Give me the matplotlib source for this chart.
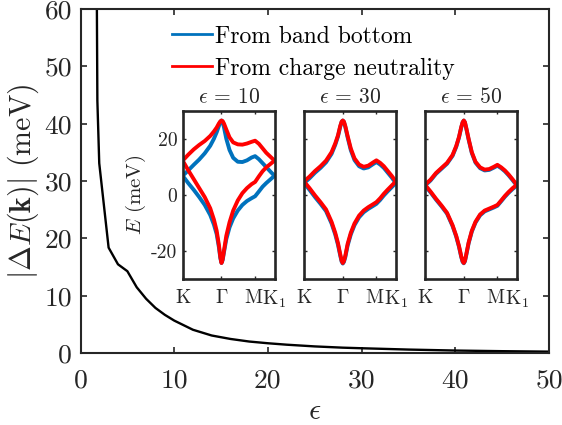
import numpy as np
import matplotlib
matplotlib.use('Agg')
import matplotlib.pyplot as plt
import matplotlib.transforms as mtransforms
from matplotlib.lines import Line2D

plt.rcParams['font.family'] = 'serif'
plt.rcParams['font.serif'] = ['cmr10']
plt.rcParams['mathtext.fontset'] = 'cm'
plt.rcParams['axes.unicode_minus'] = False
plt.rcParams['axes.formatter.use_mathtext'] = True

# ---------------- main curve ----------------
eps = [1.7, 1.8, 2, 3, 4, 5, 6, 7, 8, 9, 10, 12, 14, 16, 18, 20, 22, 25, 28, 30, 35, 40, 45, 50]
dE = [75, 44, 33.1, 18.4, 15.5, 14.3, 11.5, 9.5, 7.9, 6.7, 5.7, 4.1, 3.1, 2.5, 2.05, 1.75, 1.5,
      1.2, 0.98, 0.88, 0.65, 0.48, 0.37, 0.29]
main_xticks = [0, 10, 20, 30, 40, 50]
main_yticks = [0, 10, 20, 30, 40, 50, 60]

# ---------------- insets ----------------
inset_eps = [10, 30, 50]
kpath = [0, 0.06, 0.12, 0.18, 0.24, 0.30, 0.34, 0.37, 0.395, 0.41, 0.4226, 0.435, 0.45,
         0.475, 0.51, 0.55, 0.60, 0.65, 0.70, 0.75, 0.7887, 0.83, 0.87, 0.91, 0.955, 1.0]
kpoint_pos = [0, 0.4226, 0.7887, 1.0]
kpoint_labels = ['K', r'$\Gamma$', 'M', r'K$_1$']
inset_yticks = [-20, 0, 20]

# eps = 10
bu10 = [6.8, 8.7, 10.7, 12.6, 14.8, 17.5, 20.0, 22.3, 24.6, 26.0, 26.5, 26.0, 24.0, 20.0, 16.0,
        13.2, 11.8, 11.7, 12.3, 13.3, 13.8, 12.7, 11.3, 9.9, 8.3, 6.8]
bl10 = [6.8, 4.2, 1.8, -0.8, -3.6, -7.2, -10.6, -14.0, -18.8, -22.6, -24.3, -23.3, -20.4, -15.8,
        -11.6, -8.4, -5.6, -3.6, -2.2, -1.2, -0.5, 1.2, 2.9, 4.2, 5.5, 6.8]
ru10 = [12.2, 14.3, 16.2, 17.8, 19.2, 21.0, 22.6, 24.0, 25.5, 26.2, 26.5, 26.3, 25.4, 23.3, 20.5,
        18.7, 18.0, 17.9, 18.3, 18.9, 19.3, 18.2, 16.6, 15.0, 13.6, 12.2]
rl10 = [12.2, 8.8, 5.6, 2.4, -0.8, -4.8, -8.8, -12.8, -18.0, -22.2, -24.3, -23.0, -19.8, -14.6,
        -9.8, -5.6, -2.0, 0.6, 2.4, 3.8, 4.6, 6.6, 8.4, 9.8, 11.0, 12.2]
# eps = 30
bu30 = [4.2, 5.9, 7.9, 9.6, 11.6, 14.6, 17.8, 20.8, 24.3, 26.0, 26.5, 26.0, 24.2, 20.5, 15.9,
        12.4, 10.2, 9.4, 9.8, 10.9, 11.7, 10.8, 9.6, 8.0, 6.2, 4.2]
bl30 = [4.2, 1.8, -0.8, -3.2, -5.8, -10.2, -14.1, -17.8, -21.7, -23.8, -24.5, -23.9, -22.2, -18.1,
        -14.1, -10.8, -8.0, -6.2, -5.0, -4.0, -3.2, -1.8, -0.2, 1.2, 2.7, 4.2]
ru30 = [4.8, 6.5, 8.5, 10.2, 12.2, 15.2, 18.3, 21.2, 24.6, 26.1, 26.5, 26.1, 24.5, 21.0, 16.5,
        13.0, 10.8, 10.0, 10.4, 11.5, 12.3, 11.4, 10.2, 8.6, 6.8, 4.8]
rl30 = [4.8, 2.4, -0.2, -2.6, -5.2, -9.6, -13.5, -17.2, -21.2, -23.5, -24.3, -23.6, -21.7, -17.5,
        -13.5, -10.2, -7.4, -5.6, -4.4, -3.4, -2.6, -1.2, 0.4, 1.8, 3.3, 4.8]
# eps = 50
bu50 = [3.3, 5.1, 7.5, 9.3, 11.1, 13.9, 17.1, 20.4, 24.0, 25.8, 26.5, 25.8, 23.6, 19.7, 14.9,
        11.5, 9.5, 8.7, 8.9, 9.7, 10.4, 9.5, 8.4, 7.0, 5.2, 3.3]
bl50 = [3.3, 0.9, -1.7, -4.1, -6.7, -11.1, -14.9, -18.5, -22.2, -23.9, -24.4, -23.7, -21.4, -17.3,
        -13.1, -9.9, -7.3, -5.9, -5.2, -4.5, -3.9, -2.3, -0.7, 0.7, 2.1, 3.3]
ru50 = [3.6, 5.4, 7.8, 9.6, 11.4, 14.2, 17.4, 20.6, 24.2, 25.9, 26.5, 25.9, 23.8, 20.0, 15.2,
        11.8, 9.8, 9.0, 9.2, 10.0, 10.7, 9.8, 8.7, 7.3, 5.5, 3.6]
rl50 = [3.6, 1.2, -1.4, -3.8, -6.4, -10.8, -14.6, -18.2, -21.9, -23.7, -24.3, -23.5, -21.1, -17.0,
        -12.8, -9.6, -7.0, -5.6, -4.9, -4.2, -3.6, -2.0, -0.4, 1.0, 2.4, 3.6]

blue_sets = [(bu10, bl10), (bu30, bl30), (bu50, bl50)]
red_sets = [(ru10, rl10), (ru30, rl30), (ru50, rl50)]
legend_labels = ['From band bottom', 'From charge neutrality']

BLUE = '#0072BD'
RED = '#FF0000'
AX = '#262626'

W, H = 562, 425
fig = plt.figure(figsize=(W / 100, H / 100), dpi=100)

def px_axes(l, t, r, b):
    return fig.add_axes([l / W, 1 - b / H, (r - l) / W, (b - t) / H])

ax = px_axes(80.5, 8.8, 549, 353.3)
ax.plot(eps, dE, color='black', lw=1.7)
ax.set_xlim(0, 50)
ax.set_ylim(0, 60)
ax.set_xticks(main_xticks)
ax.set_xticklabels([str(v) for v in main_xticks])
ax.set_yticks(main_yticks)
ax.set_yticklabels([str(v) for v in main_yticks])
ax.tick_params(direction='in', top=True, right=True, length=4.3, width=1.2,
               color=AX, labelcolor=AX, labelsize=19.8)
ax.tick_params(axis='x', pad=11)
ax.tick_params(axis='y', pad=6)
for s in ax.spines.values():
    s.set_linewidth(1.5)
    s.set_color(AX)
ax.set_xlabel(r'$\epsilon$', fontsize=21.5, color=AX, va='baseline')
ax.set_ylabel(r'$|\Delta E(\mathbf{k})|$ (meV)', fontsize=21.5, color=AX, va='center')
ax.xaxis.set_label_coords(0.5, (353.3 - 419) / 344.5)
ax.yaxis.set_label_coords((23 - 80.5) / 468.5, 0.5)

handles = [Line2D([], [], color=BLUE, lw=2), Line2D([], [], color=RED, lw=2)]
leg = ax.legend(handles, legend_labels, loc='upper left', frameon=False,
                bbox_to_anchor=(171.7 / W, 1 - 25.5 / H), bbox_transform=fig.transFigure,
                fontsize=17, handlelength=1.69, handletextpad=0.14, labelspacing=0.42,
                borderaxespad=0, borderpad=0)

inset_lefts = [182.7, 304, 425]
inset_w = 91.8
for i, e in enumerate(inset_eps):
    l = inset_lefts[i]
    ia = px_axes(l, 110.7, l + inset_w, 279)
    bu, bl = blue_sets[i]
    ru, rl = red_sets[i]
    for y in (bu, bl):
        ia.plot(kpath, y, color=BLUE, lw=2.8, solid_joinstyle='round', solid_capstyle='round')
    for y in (ru, rl):
        ia.plot(kpath, y, color=RED, lw=2.8, solid_joinstyle='round', solid_capstyle='round')
    ia.set_xlim(0, 1)
    ia.set_ylim(-30, 30)
    ia.set_xticks(kpoint_pos)
    ia.set_xticklabels(kpoint_labels)
    ia.set_yticks(inset_yticks)
    if i == 0:
        ia.set_yticklabels([str(v) for v in inset_yticks])
        ia.set_ylabel(r'$E$ (meV)', fontsize=15, color=AX, va='center')
        ia.yaxis.set_label_coords((136 - l) / inset_w, 0.5)
    else:
        ia.set_yticklabels([])
    ia.tick_params(direction='in', top=True, right=True, length=2.2, width=1.0,
                   color=AX, labelcolor=AX, labelsize=14.2)
    ia.tick_params(axis='x', pad=7)
    ia.tick_params(axis='y', pad=4)
    # nudge the "M" label slightly left so it does not collide with "K1"
    mlab = ia.xaxis.get_major_ticks()[2].label1
    mlab.set_transform(mlab.get_transform() +
                       mtransforms.ScaledTranslation(-2.2 / 100, 0, fig.dpi_scale_trans))
    for s in ia.spines.values():
        s.set_linewidth(1.9)
        s.set_color(AX)
    ia.set_title(r'$\epsilon\,=\,%d$' % e, fontsize=15.5, color=AX, pad=5.5)

fig.savefig('out.png', dpi=100)
